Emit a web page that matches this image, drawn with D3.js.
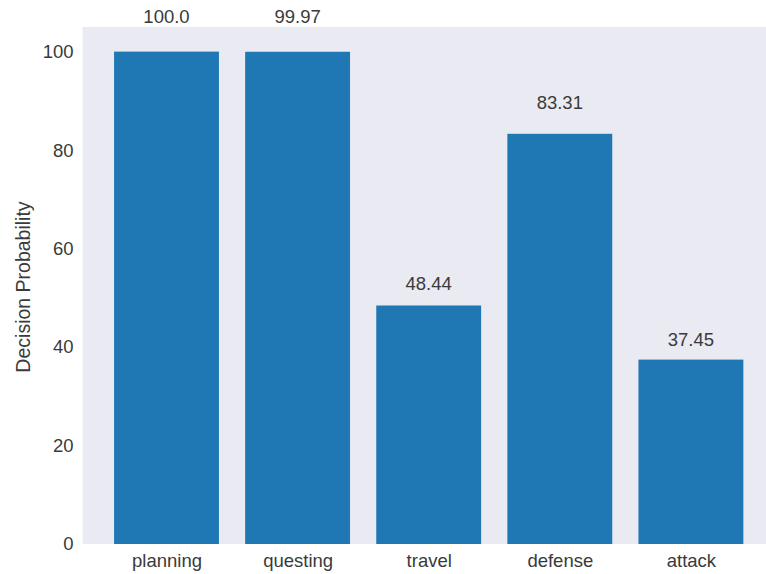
<!DOCTYPE html>
<html><head><meta charset="utf-8">
<script src="https://cdn.jsdelivr.net/npm/d3@7"></script>
<style>body{margin:0;background:#fff}svg{display:block}</style>
</head><body>
<script>
const categories = ["planning","questing","travel","defense","attack"];
const values = [100.0, 99.97, 48.44, 83.31, 37.45];
const valueLabels = ["100.0","99.97","48.44","83.31","37.45"];
const yTicks = [0,20,40,60,80,100];

(function(){
const W = 766, H = 574;
const svg = d3.select("body").append("svg").attr("width", W).attr("height", H);
const step = 131.1;
const c0 = 166.5;
const mLeft = c0 - 0.64*step, mTop = 27, mBottom = 544;
const x = d3.scaleLinear().domain([-0.64, 4.64]).range([mLeft, mLeft + 5.28*step]);
const y = d3.scaleLinear().domain([0, 105]).range([mBottom, mTop]);
const font = "'Liberation Sans', Arial, sans-serif";
const tc = "#3a3a3a";
const fs = 18.5;

svg.append("rect").attr("x", mLeft).attr("y", mTop)
  .attr("width", x(4.64)-mLeft).attr("height", mBottom-mTop).attr("fill", "#EAEAF2");

svg.selectAll("rect.bar").data(values).join("rect").attr("class","bar")
  .attr("x", (d,i)=>x(i-0.4)).attr("width", (d,i)=>x(i+0.4)-x(i-0.4))
  .attr("y", d=>y(d)).attr("height", d=>y(0)-y(d)).attr("fill", "#1f77b4");

svg.selectAll("text.vl").data(values).join("text").attr("class","vl")
  .attr("x",(d,i)=>x(i)).attr("y", d=>y(d*1.05)-4)
  .attr("text-anchor","middle").attr("font-family",font).attr("font-size",fs).attr("fill",tc)
  .text((d,i)=>valueLabels[i]);

const ya = d3.axisLeft(y).tickValues(yTicks).tickSize(0).tickPadding(9);
const gy = svg.append("g").attr("transform",`translate(${mLeft},0)`).call(ya);
gy.select(".domain").remove();
gy.selectAll("text").attr("font-family",font).attr("font-size",fs).attr("fill",tc);

const xa = d3.axisBottom(x).tickValues(d3.range(categories.length)).tickFormat(i=>categories[i]).tickSize(0).tickPadding(10);
const gx = svg.append("g").attr("transform",`translate(0,${mBottom})`).call(xa);
gx.select(".domain").remove();
gx.selectAll("text").attr("font-family",font).attr("font-size",fs).attr("fill",tc);

svg.append("text").attr("transform",`translate(30,${(mTop+mBottom)/2 + 1.5}) rotate(-90)`)
  .attr("text-anchor","middle").attr("font-family",font).attr("font-size",19.5).attr("fill",tc)
  .text("Decision Probability");
})();
</script>
</body></html>
